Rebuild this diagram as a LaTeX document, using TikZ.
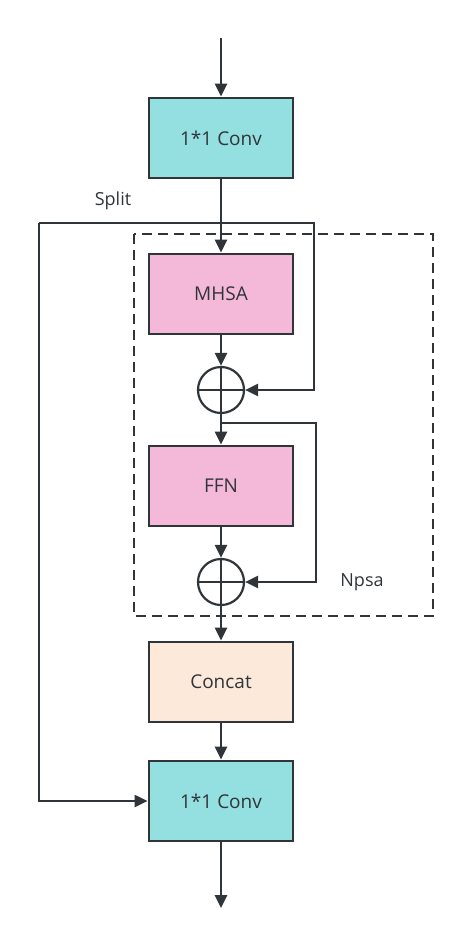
\documentclass[tikz,border=0pt]{standalone}
\usepackage{fontspec}
\setmainfont{Open Sans}
\usetikzlibrary{arrows.meta}
\definecolor{ln}{HTML}{30353A}
\definecolor{convc}{HTML}{94DFE0}
\definecolor{pinkc}{HTML}{F4B8D9}
\definecolor{peach}{HTML}{FCE9DA}
\begin{document}
\begin{tikzpicture}[x=1pt,y=-1pt,
  blk/.style={draw=ln,line width=2.8pt,minimum width=144pt,minimum height=80pt,inner sep=0pt,font=\fontsize{19}{21}\selectfont,text=ln},
  plus/.style={draw=ln,line width=2.2pt,circle,minimum size=46pt,inner sep=0pt},
  arr/.style={draw=ln,line width=2.6pt,-{Triangle[length=13pt,width=12pt]}},
  thin/.style={draw=ln,line width=2.2pt},
  lbl/.style={font=\fontsize{18}{20}\selectfont,text=ln,inner sep=0pt}]
\useasboundingbox (0,0) rectangle (474,943);
\coordinate (top) at (221,38);
\node[blk,fill=convc] (c1) at (221,138) {1*1 Conv};
\node[blk,fill=pinkc] (mhsa) at (221,294) {MHSA};
\node[plus] (p1) at (221,390) {};
\node[blk,fill=pinkc] (ffn) at (221,486) {FFN};
\node[plus] (p2) at (221,582) {};
\node[blk,fill=peach] (cat) at (221,682) {Concat};
\node[blk,fill=convc] (c2) at (221,801) {1*1 Conv};
\coordinate (bot) at (221,908);
\coordinate (sp) at (221,223);
\coordinate (sl) at (39,223);
\coordinate (sr) at (314,223);
\coordinate (br) at (221,423);
\coordinate (brr) at (316,423);
% dashed box
\draw[draw=ln,line width=2.4pt,dash pattern=on 10pt off 6pt] (134,234) rectangle (433,616);
% plus signs
\draw[ln,line width=2.2pt] (p1.north) -- (p1.south) (p1.west) -- (p1.east);
\draw[ln,line width=2.2pt] (p2.north) -- (p2.south) (p2.west) -- (p2.east);
% main flow
\draw[arr] (top) -- (c1.north);
\draw[arr] (c1.south) -- (mhsa.north);
\draw[arr] (mhsa.south) -- (p1.north);
\draw[arr] (p1.south) -- (ffn.north);
\draw[arr] (ffn.south) -- (p2.north);
\draw[arr] (p2.south) -- (cat.north);
\draw[arr] (cat.south) -- (c2.north);
\draw[arr] (c2.south) -- (bot);
% split branches
\draw[thin] (sp) -- (sl);
\draw[thin,-{Triangle[length=13pt,width=12pt]}] (sl) |- (c2.west);
\draw[thin,-{Triangle[length=13pt,width=12pt]}] (sp) -- (sr) |- (p1.east);
\draw[thin,-{Triangle[length=13pt,width=12pt]}] (br) -- (brr) |- (p2.east);
% labels
\node[lbl] (split) at (113,201) {Split};
\node[lbl] (npsa) at (362,582) {Npsa};
\end{tikzpicture}
\end{document}
